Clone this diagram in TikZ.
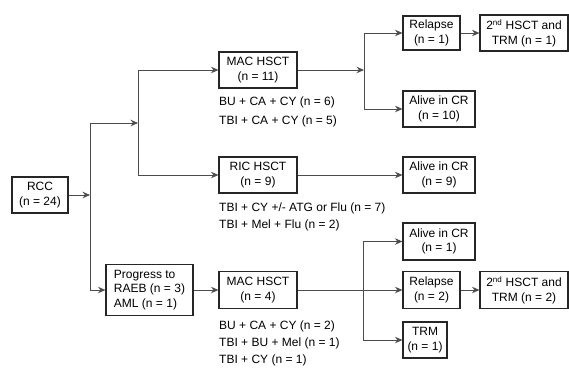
\documentclass[tikz,border=0pt]{standalone}
\usepackage{fontspec}
\setmainfont{Liberation Sans}
\usetikzlibrary{arrows.meta}

\begin{document}
\begin{tikzpicture}[x=1pt,y=-1pt,font=\fontsize{12}{14.5}\selectfont]
    % `stage' is used for every boxed group of patients.
    % `regimen' is used for the conditioning lists under the HSCT boxes.
    % `flow' and `arrowline' are used for the connectors.
    \tikzstyle{stage} = [draw=black!85,line width=1.1pt,align=center,inner sep=2pt,minimum height=36pt]
    \tikzstyle{regimen} = [anchor=north west,inner sep=0pt,align=left,font=\fontsize{12}{17}\selectfont]
    \tikzstyle{flow} = [draw=black!70,line width=0.9pt]
    \tikzstyle{arrowline} = [flow,-{Stealth[length=7.5pt,width=6.5pt,inset=2.5pt]}]
    \useasboundingbox (0,0) rectangle (569,367);
    %
    \node[stage,minimum width=56pt] (rcc) at (40,195) {RCC\\(n = 24)};
    \node[stage,minimum width=78pt] (mac1) at (258,70) {MAC HSCT\\(n = 11)};
    \node[stage,minimum width=78pt] (ric) at (258,175) {RIC HSCT\\(n = 9)};
    \node[stage,minimum width=87pt,minimum height=51pt,align=left] (prog) at (149.5,290)
        {Progress to\\RAEB (n = 3)\\AML (n = 1)};
    \node[stage,minimum width=78pt,minimum height=37pt] (mac2) at (258,290) {MAC HSCT\\(n = 4)};
    %
    \node[stage,minimum width=57pt,minimum height=34pt] (rel1) at (431.5,33) {Relapse\\(n = 1)};
    \node[stage,minimum width=88pt] (sec1) at (524,33) {2\textsuperscript{nd} HSCT and\\TRM (n = 1)};
    \node[stage,minimum width=72pt] (alive1) at (439,109) {Alive in CR\\(n = 10)};
    \node[stage,minimum width=72pt] (alive2) at (439,175) {Alive in CR\\(n = 9)};
    \node[stage,minimum width=72pt,minimum height=37pt] (alive3) at (439,241.5) {Alive in CR\\(n = 1)};
    \node[stage,minimum width=57pt,minimum height=37pt] (rel2) at (431.5,290) {Relapse\\(n = 2)};
    \node[stage,minimum width=88pt,minimum height=37pt] (sec2) at (524,290) {2\textsuperscript{nd} HSCT and\\TRM (n = 2)};
    \node[stage,minimum width=44pt] (trm) at (425,340) {TRM\\(n = 1)};
    %
    % Conditioning regimens.
    \node[regimen,font=\fontsize{12}{19}\selectfont] (reg1) at (219,97)
        {BU + CA + CY (n = 6)\\TBI + CA + CY (n = 5)};
    \node[regimen] (reg2) at (219,202.5)
        {TBI + CY +/- ATG or Flu (n = 7)\\TBI + Mel + Flu (n = 2)};
    \node[regimen] (reg3) at (219,320.5)
        {BU + CA + CY (n = 2)\\TBI + BU + Mel (n = 1)\\TBI + CY (n = 1)};
    %
    % Branch points.
    \coordinate (trunktop) at (90,123);
    \coordinate (trunkbot) at (90,290);
    \coordinate (split1) at (138,123);
    \coordinate (split2) at (364,70);
    \coordinate (split3) at (363,290);
    %
    % Draw lines.
    \draw[arrowline] (rcc) -- (rcc -| trunktop);
    \draw[flow] (trunktop) -- (trunkbot);
    \draw[arrowline] (trunktop) -- (split1);
    \draw[flow] (split1 |- mac1) -- (split1 |- ric);
    \draw[arrowline] (split1 |- mac1) -- (mac1);
    \draw[arrowline] (split1 |- ric) -- (ric);
    \draw[arrowline] (trunkbot) -- (prog);
    \draw[arrowline] (prog) -- (mac2);
    %
    \draw[arrowline] (mac1) -- (split2);
    \draw[flow] (split2 |- rel1) -- (split2 |- alive1);
    \draw[arrowline] (split2 |- rel1) -- (rel1);
    \draw[arrowline] (split2 |- alive1) -- (alive1);
    \draw[arrowline] (rel1) -- (sec1);
    \draw[arrowline] (ric) -- (alive2);
    %
    \draw[flow] (mac2) -- (split3);
    \draw[flow] (split3 |- alive3) -- (split3 |- trm);
    \draw[arrowline] (split3 |- alive3) -- (alive3);
    \draw[arrowline] (split3) -- (rel2);
    \draw[arrowline] (split3 |- trm) -- (trm);
    \draw[arrowline] (rel2) -- (sec2);
\end{tikzpicture}
\end{document}
